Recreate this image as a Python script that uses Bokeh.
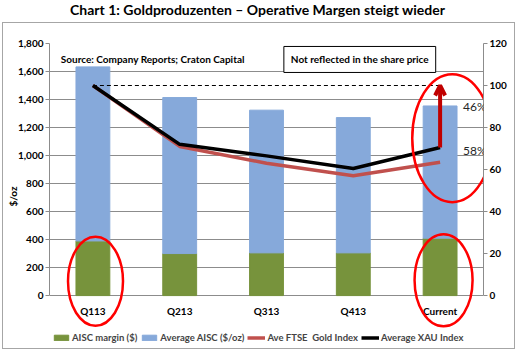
import math
from bokeh.plotting import figure
from bokeh.models import (ColumnDataSource, Range1d, LinearAxis, FixedTicker, NumeralTickFormatter,
                          Legend, LegendItem, Label, Arrow, OpenHead, Div)
from bokeh.layouts import column
from bokeh.core.properties import value
from bokeh.embed import file_html
from bokeh.resources import INLINE

# ---- data ----
categories = ["Q113", "Q213", "Q313", "Q413", "Current"]
aisc_margin = [390, 300, 305, 305, 410]
avg_aisc = [1243, 1114, 1019, 966, 944]
ftse_index = [100, 71, 63, 57, 63.5]
xau_index = [100, 72, 66.5, 60.5, 70.5]
pct_labels = ["46%", "58%"]
pct_levels = [90, 69]
left_ticks = [0, 200, 400, 600, 800, 1000, 1200, 1400, 1600, 1800]
right_ticks = [0, 20, 40, 60, 80, 100, 120]

FONT = "Lato"
GREEN = "#77933C"
BLUE = "#86A9DA"
RED = "#C0504D"

xs = list(range(len(categories)))
src = ColumnDataSource(dict(x=xs, cat=categories, margin=aisc_margin, aisc=avg_aisc,
                            ftse=ftse_index, xau=xau_index, zero=[0] * len(xs)))

p = figure(width=513, height=327, output_backend="svg", toolbar_location=None,
           x_range=Range1d(-0.5, len(xs) - 0.5), y_range=Range1d(-385, 1800),
           x_axis_location=None, min_border_left=44, min_border_right=33,
           min_border_top=20, min_border_bottom=1)
p.extra_y_ranges = {"idx": Range1d(-25.67, 120)}
p.outline_line_color = None
p.background_fill_color = "white"
p.border_fill_color = "white"
p.styles = {"border": "1px solid #a6a6a6"}
p.margin = (0, 0, 0, 2)

# left axis
ax = p.yaxis[0]
ax.ticker = FixedTicker(ticks=left_ticks)
ax.bounds = (0, 1800)
ax.formatter = NumeralTickFormatter(format="0,0")
ax.axis_label = "$/oz"

ra = LinearAxis(y_range_name="idx", ticker=FixedTicker(ticks=right_ticks), bounds=(0, 120))
p.add_layout(ra, "right")

for a in [ax, ra]:
    a.axis_line_color = "#8c8c8c"
    a.major_tick_line_color = "#8c8c8c"
    a.minor_tick_line_color = None
    a.major_tick_out = 4
    a.major_tick_in = 0
    a.major_label_text_font = FONT
    a.major_label_text_font_style = "bold"
    a.major_label_text_font_size = "10px"
    a.major_label_text_color = "black"
    a.major_label_standoff = 2
    a.axis_label_text_font = FONT
    a.axis_label_text_font_style = "bold"
    a.axis_label_text_font_size = "10px"
    a.axis_label_text_color = "black"
    a.axis_label_standoff = -4

# right axis title
p.add_layout(Label(x=p.x_range.end, y=64, y_range_name="idx", x_offset=21, text="Index",
                   angle=math.pi / 2, text_font=FONT, text_font_style="bold",
                   text_font_size="10px", text_color="black",
                   text_align="center", text_baseline="middle"))

p.xgrid.visible = False
p.ygrid.ticker = FixedTicker(ticks=left_ticks)
p.ygrid.grid_line_color = "#8c8c8c"

# bars
bars = p.vbar_stack(["margin", "aisc"], x="x", width=0.39, color=[GREEN, BLUE], source=src)

# lines
l_ftse = p.line("x", "ftse", source=src, y_range_name="idx", line_color=RED, line_width=3.5)
l_xau = p.line("x", "xau", source=src, y_range_name="idx", line_color="black", line_width=3.5)

# dashed reference at starting level
p.segment(x0=xs[0], y0=xau_index[0], x1=xs[-1], y1=xau_index[0], y_range_name="idx",
          line_color="black", line_width=1, line_dash="4 3")

# arrow
p.add_layout(Arrow(x_start=xs[-1], y_start=xau_index[-1], x_end=xs[-1], y_end=xau_index[0],
                   y_range_name="idx", line_color="#C00000", line_width=4,
                   end=OpenHead(line_color="#C00000", line_width=4, size=10)))

# percentage labels
for txt, lvl in zip(pct_labels, pct_levels):
    p.add_layout(Label(x=xs[-1], y=lvl, text=txt, y_range_name="idx", x_offset=23,
                       text_font=FONT, text_font_size="12px", text_color="#262626",
                       text_align="left", text_baseline="middle"))

# category labels
p.text(x="x", y="zero", text="cat", source=src, y_offset=9, text_font=value(FONT),
       text_font_style="bold", text_font_size="10px", text_color="black",
       text_align="center", text_baseline="top")

# ellipses
p.ellipse(x=[0.03, 4.04, 4.14], y=[102, 109, 1124], width=[55, 58, 80], height=[89, 92, 128],
          width_units="screen", height_units="screen", fill_color=None,
          line_color="#FF0000", line_width=2.5)

# source text
p.add_layout(Label(x=-0.37, y=1688, text="Source: Company Reports; Craton Capital",
                   text_font=FONT, text_font_style="bold", text_font_size="10px",
                   text_color="black", text_baseline="middle"))

p.add_layout(Label(x=2.2, y=1686, text="Not reflected in the share price",
                   text_font=FONT, text_font_style="bold", text_font_size="10px",
                   text_color="black", text_baseline="middle",
                   border_line_color="black", border_line_width=1,
                   background_fill_color="white", padding=7))

legend = Legend(items=[
    LegendItem(label="AISC margin ($)", renderers=[bars[0]]),
    LegendItem(label="Average AISC ($/oz)", renderers=[bars[1]]),
    LegendItem(label="Ave FTSE  Gold Index", renderers=[l_ftse]),
    LegendItem(label="Average XAU Index", renderers=[l_xau]),
], orientation="horizontal", location=(3, 6))
legend.label_text_font = FONT
legend.label_text_font_style = "bold"
legend.label_text_font_size = "9.5px"
legend.label_height = 12
legend.glyph_height = 7
legend.glyph_width = 18
legend.padding = 0
legend.margin = 0
legend.spacing = 3
legend.label_standoff = 2
legend.border_line_color = None
legend.background_fill_color = None
p.add_layout(legend)

title = Div(text="Chart 1: Goldproduzenten &ndash; Operative Margen steigt wieder",
            width=515, height=22, margin=0,
            styles={"text-align": "center", "font-family": "Lato", "font-weight": "bold",
                    "font-size": "14px", "line-height": "20px", "color": "black",
                    "width": "515px"})

layout = column(title, p, spacing=0, margin=0)
open("out.html", "w").write(file_html(layout, INLINE))
